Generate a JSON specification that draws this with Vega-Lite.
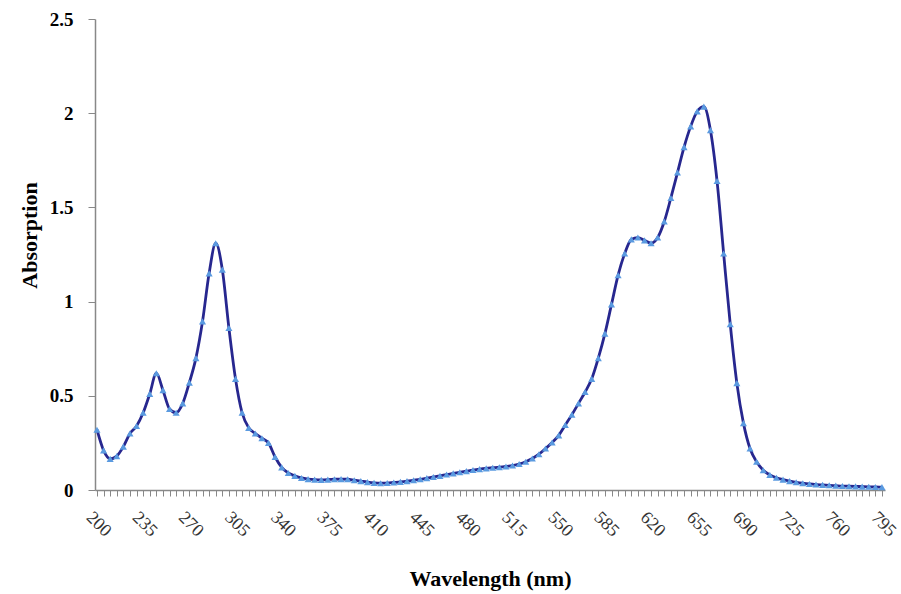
{
  "$schema": "https://vega.github.io/schema/vega-lite/v6.json",
  "autosize": "none",
  "width": 790,
  "height": 471,
  "padding": {"left": 95, "top": 19, "right": 16, "bottom": 104},
  "background": "white",
  "config": {"view": {"stroke": null}, "font": "Liberation Serif"},
  "data": {"values": [
    {"wl":200,"abs":0.32},{"wl":205,"abs":0.21},{"wl":210,"abs":0.165},{"wl":215,"abs":0.18},{"wl":220,"abs":0.23},
    {"wl":225,"abs":0.30},{"wl":230,"abs":0.34},{"wl":235,"abs":0.41},{"wl":240,"abs":0.51},{"wl":245,"abs":0.62},
    {"wl":250,"abs":0.53},{"wl":255,"abs":0.43},{"wl":260,"abs":0.41},{"wl":265,"abs":0.46},{"wl":270,"abs":0.57},
    {"wl":275,"abs":0.70},{"wl":280,"abs":0.895},{"wl":285,"abs":1.15},{"wl":290,"abs":1.31},{"wl":295,"abs":1.17},
    {"wl":300,"abs":0.86},{"wl":305,"abs":0.59},{"wl":310,"abs":0.41},{"wl":315,"abs":0.33},{"wl":320,"abs":0.30},
    {"wl":325,"abs":0.275},{"wl":330,"abs":0.25},{"wl":335,"abs":0.175},{"wl":340,"abs":0.12},{"wl":345,"abs":0.09},
    {"wl":350,"abs":0.075},{"wl":355,"abs":0.064},{"wl":360,"abs":0.058},{"wl":365,"abs":0.055},{"wl":370,"abs":0.054},
    {"wl":375,"abs":0.055},{"wl":380,"abs":0.057},{"wl":385,"abs":0.058},{"wl":390,"abs":0.057},{"wl":395,"abs":0.052},
    {"wl":400,"abs":0.047},{"wl":405,"abs":0.042},{"wl":410,"abs":0.038},{"wl":415,"abs":0.036},{"wl":420,"abs":0.037},
    {"wl":425,"abs":0.04},{"wl":430,"abs":0.043},{"wl":435,"abs":0.047},{"wl":440,"abs":0.052},{"wl":445,"abs":0.057},
    {"wl":450,"abs":0.063},{"wl":455,"abs":0.069},{"wl":460,"abs":0.075},{"wl":465,"abs":0.082},{"wl":470,"abs":0.088},
    {"wl":475,"abs":0.094},{"wl":480,"abs":0.1},{"wl":485,"abs":0.106},{"wl":490,"abs":0.111},{"wl":495,"abs":0.115},
    {"wl":500,"abs":0.118},{"wl":505,"abs":0.121},{"wl":510,"abs":0.125},{"wl":515,"abs":0.13},{"wl":520,"abs":0.138},
    {"wl":525,"abs":0.15},{"wl":530,"abs":0.167},{"wl":535,"abs":0.19},{"wl":540,"abs":0.22},{"wl":545,"abs":0.252},
    {"wl":550,"abs":0.29},{"wl":555,"abs":0.345},{"wl":560,"abs":0.40},{"wl":565,"abs":0.46},{"wl":570,"abs":0.52},
    {"wl":575,"abs":0.59},{"wl":580,"abs":0.70},{"wl":585,"abs":0.83},{"wl":590,"abs":0.985},{"wl":595,"abs":1.14},
    {"wl":600,"abs":1.255},{"wl":605,"abs":1.33},{"wl":610,"abs":1.34},{"wl":615,"abs":1.325},{"wl":620,"abs":1.31},
    {"wl":625,"abs":1.34},{"wl":630,"abs":1.425},{"wl":635,"abs":1.55},{"wl":640,"abs":1.685},{"wl":645,"abs":1.82},
    {"wl":650,"abs":1.93},{"wl":655,"abs":2.01},{"wl":660,"abs":2.035},{"wl":665,"abs":1.91},{"wl":670,"abs":1.64},
    {"wl":675,"abs":1.255},{"wl":680,"abs":0.88},{"wl":685,"abs":0.567},{"wl":690,"abs":0.355},{"wl":695,"abs":0.22},
    {"wl":700,"abs":0.15},{"wl":705,"abs":0.105},{"wl":710,"abs":0.08},{"wl":715,"abs":0.065},{"wl":720,"abs":0.055},
    {"wl":725,"abs":0.047},{"wl":730,"abs":0.041},{"wl":735,"abs":0.036},{"wl":740,"abs":0.032},{"wl":745,"abs":0.029},
    {"wl":750,"abs":0.027},{"wl":755,"abs":0.025},{"wl":760,"abs":0.023},{"wl":765,"abs":0.021},{"wl":770,"abs":0.02},
    {"wl":775,"abs":0.019},{"wl":780,"abs":0.018},{"wl":785,"abs":0.017},{"wl":790,"abs":0.016},{"wl":795,"abs":0.015}
  ]},
  "encoding": {
    "x": {
      "field": "wl", "type": "quantitative",
      "scale": {"domain": [198.5, 797.3], "nice": false, "zero": false},
      "axis": {
        "title": "Wavelength (nm)",
        "titleFont": "Liberation Serif", "titleFontSize": 22, "titleFontWeight": "bold", "titleColor": "#000",
        "titleY": 95, "titleBaseline": "alphabetic",
        "values": [200,205,210,215,220,225,230,235,240,245,250,255,260,265,270,275,280,285,290,295,300,305,310,315,320,325,330,335,340,345,350,355,360,365,370,375,380,385,390,395,400,405,410,415,420,425,430,435,440,445,450,455,460,465,470,475,480,485,490,495,500,505,510,515,520,525,530,535,540,545,550,555,560,565,570,575,580,585,590,595,600,605,610,615,620,625,630,635,640,645,650,655,660,665,670,675,680,685,690,695,700,705,710,715,720,725,730,735,740,745,750,755,760,765,770,775,780,785,790,795],
        "labelExpr": "(datum.value - 200) % 35 === 0 ? datum.label : ''",
        "labelOverlap": false,
        "labelAngle": 45, "labelAlign": "center", "labelBaseline": "middle",
        "labelFont": "Liberation Serif", "labelFontSize": 18, "labelColor": "#333",
        "labelPadding": 28, "labelOffset": 1,
        "tickSize": 6, "tickColor": "#888", "tickWidth": 1,
        "domainColor": "#888", "domainWidth": 1.5,
        "grid": false
      }
    },
    "y": {
      "field": "abs", "type": "quantitative",
      "scale": {"domain": [0, 2.5], "nice": false},
      "axis": {
        "title": "Absorption",
        "titleFont": "Liberation Serif", "titleFontSize": 22, "titleFontWeight": "bold", "titleColor": "#000",
        "titleX": -66, "titleY": 216, "titleBaseline": "middle", "titleAlign": "center", "titleAngle": -90,
        "values": [0, 0.5, 1, 1.5, 2, 2.5],
        "format": "~g",
        "labelFont": "Liberation Serif", "labelFontSize": 19, "labelFontWeight": "bold", "labelColor": "#000",
        "labelPadding": 15,
        "tickSize": 7, "tickColor": "#888",
        "domainColor": "#888", "domainWidth": 1.5,
        "grid": false
      }
    }
  },
  "layer": [
    {"mark": {"type": "line", "color": "#27278f", "strokeWidth": 2.8, "interpolate": "monotone"}},
    {"mark": {"type": "point", "shape": "triangle-up", "filled": true, "size": 50, "color": "#5a9ae0", "opacity": 1}}
  ]
}
